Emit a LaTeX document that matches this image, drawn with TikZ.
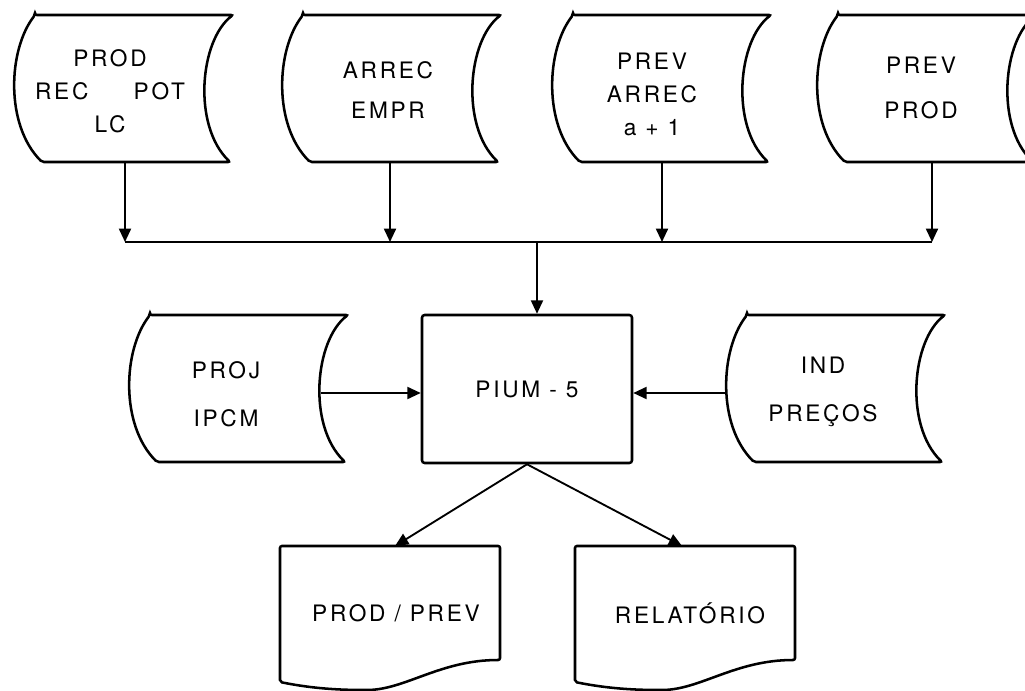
\documentclass[tikz,border=0pt]{standalone}
\usepackage{fontspec}
\usetikzlibrary{arrows.meta}
\newfontfamily\lettering[LetterSpace=12]{TeX Gyre Heros}

\begin{document}
\begin{tikzpicture}[x=0.75pt,y=0.75pt,yscale=-1,xscale=1,
    store/.style={line width=1.9pt, rounded corners=1.5pt},
    docpage/.style={line width=1.9pt, rounded corners=1.5pt},
    flow/.style={line width=1.4pt, -{Triangle[length=10pt,width=9pt]}},
    lbl/.style={align=center, inner sep=0pt, font=\lettering\fontsize{17}{24.75}\selectfont}]
                                    \useasboundingbox (0,0) rectangle (1025,691);
                                    \clip (0,0) rectangle (1025,691);
                                    \draw [store, shift={(35,15)}] (0,0) -- (198,0) .. controls (165,25) and (157,110) .. (195,147) -- (7,147) .. controls (-30,110) and (-27,35) .. (0,0) -- cycle ;
                                    \draw [store, shift={(303,15)}] (0,0) -- (198,0) .. controls (165,25) and (157,110) .. (195,147) -- (7,147) .. controls (-30,110) and (-27,35) .. (0,0) -- cycle ;
                                    \draw [store, shift={(573,15)}] (0,0) -- (198,0) .. controls (165,25) and (157,110) .. (195,147) -- (7,147) .. controls (-30,110) and (-27,35) .. (0,0) -- cycle ;
                                    \draw [store, shift={(838,15)}] (0,0) -- (198,0) .. controls (165,25) and (157,110) .. (195,147) -- (7,147) .. controls (-30,110) and (-27,35) .. (0,0) -- cycle ;
                                    \draw [store, shift={(150,315)}] (0,0) -- (198,0) .. controls (165,25) and (157,110) .. (195,147) -- (7,147) .. controls (-30,110) and (-27,35) .. (0,0) -- cycle ;
                                    \draw [store, shift={(747,315)}] (0,0) -- (198,0) .. controls (165,25) and (157,110) .. (195,147) -- (7,147) .. controls (-30,110) and (-27,35) .. (0,0) -- cycle ;
                                    \draw [docpage, shift={(280,546)}] (0,0) -- (220,0) -- (220,114) .. controls (160,114) and (125,144) .. (85,144) .. controls (45,144) and (20,140) .. (0,136) -- cycle ;
                                    \draw [docpage, shift={(575,546)}] (0,0) -- (220,0) -- (220,114) .. controls (160,114) and (125,144) .. (85,144) .. controls (45,144) and (20,140) .. (0,136) -- cycle ;
                                    \node (prod) [lbl] at (110,91) {PROD\\REC\hspace{34pt}POT\\LC};
                                    \node (arrec) [lbl] at (388,90) {ARREC\\[5pt]EMPR};
                                    \node (prevarr) [lbl] at (652,94) {PREV\\ARREC\\a + 1};
                                    \node (prevprod) [lbl] at (921,88) {PREV\\[9pt]PROD};
                                    \node (proj) [lbl] at (226,394) {PROJ\\[11pt]IPCM};
                                    \node (ind) [lbl] at (823,392) {IND\\[11pt]PREÇOS};
                                    \node (pium) [lbl, draw, line width=1.9pt, rounded corners=2pt, minimum width=157.5pt, minimum height=111pt] at (527,389) {PIUM - 5};
                                    \node (prodprev) [lbl] at (396,613) {PROD / PREV};
                                    \node (relat) [lbl] at (690,613) {RELATÓRIO};
                                    \coordinate (s1) at (125,162);
                                    \coordinate (s2) at (390,162);
                                    \coordinate (s3) at (662,162);
                                    \coordinate (s4) at (932,162);
                                    \coordinate (b1) at (125,242);
                                    \coordinate (b2) at (390,242);
                                    \coordinate (b3) at (662,242);
                                    \coordinate (b4) at (932,242);
                                    \coordinate (b0) at (537,242);
                                    \coordinate (projout) at (321,393);
                                    \coordinate (indin) at (727,393);
                                    \coordinate (pp) at (395,546);
                                    \coordinate (rl) at (682,546);
                                    \draw [flow] (s1) -- (b1) ;
                                    \draw [flow] (s2) -- (b2) ;
                                    \draw [flow] (s3) -- (b3) ;
                                    \draw [flow] (s4) -- (b4) ;
                                    \draw [line width=1.4pt] (b1) -- (b4) ;
                                    \draw [flow] (b0) -- (b0 |- pium.north) ;
                                    \draw [flow] (projout) -- (projout -| pium.west) ;
                                    \draw [flow] (indin) -- (indin -| pium.east) ;
                                    \draw [flow] (pium.south) -- (pp) ;
                                    \draw [flow] (pium.south) -- (rl) ;
\end{tikzpicture}
\end{document}
